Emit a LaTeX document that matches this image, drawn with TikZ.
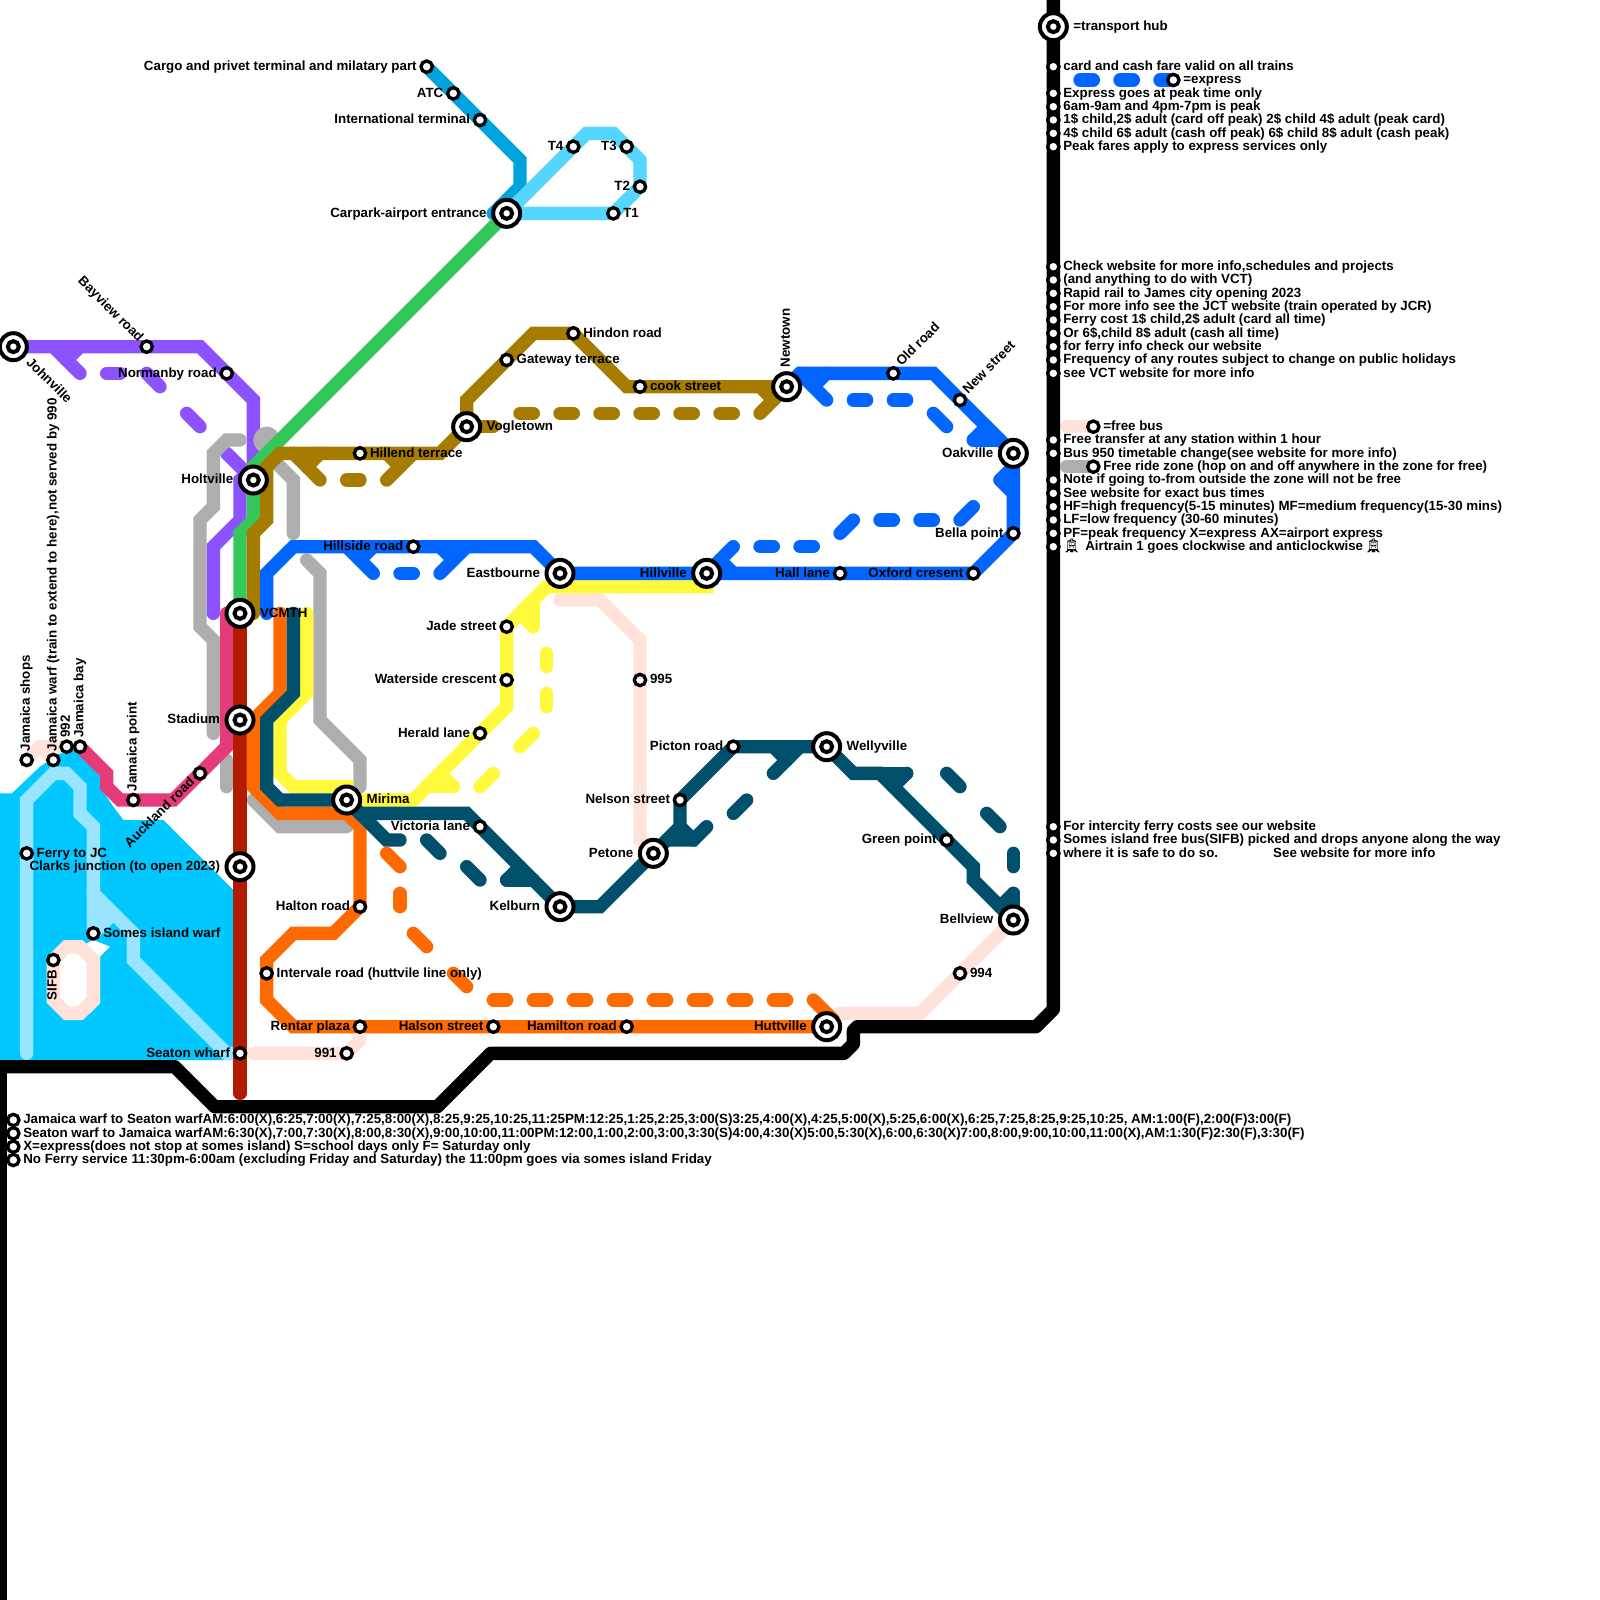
\documentclass[tikz,border=0pt]{standalone}
\usepackage{fontspec}
\setmainfont{Liberation Sans}
\newfontfamily\emo{Noto Emoji}
\definecolor{cwater}{HTML}{00C8FF}
\definecolor{clight}{HTML}{99E5FF}
\definecolor{cpeach}{HTML}{FFE2D9}
\definecolor{cgrey}{HTML}{AEAEAE}
\definecolor{cpink}{HTML}{E63B7A}
\definecolor{cred}{HTML}{B31B00}
\definecolor{cpurple}{HTML}{8C52FF}
\definecolor{cgreen}{HTML}{34C85A}
\definecolor{cbrown}{HTML}{A67C00}
\definecolor{cblue}{HTML}{0066FF}
\definecolor{corange}{HTML}{FF6A00}
\definecolor{cteal}{HTML}{004F6B}
\definecolor{cyellow}{HTML}{FFF83B}
\definecolor{cair}{HTML}{00A3DC}
\definecolor{cskyl}{HTML}{54D6FF}
\tikzset{
 ln/.style={line width=6.667pt,line cap=round,line join=miter,miter limit=4},
 stn/.style={circle,draw=black,fill=white,line width=1.667pt,minimum size=5.67pt,inner sep=0pt,outer sep=0pt},
 hubo/.style={circle,draw=black,fill=white,line width=2pt,minimum size=13.5pt,inner sep=0pt,outer sep=0pt},
 hubi/.style={circle,draw=black,fill=white,line width=2pt,minimum size=5.5pt,inner sep=0pt,outer sep=0pt},
 lbl/.style={inner sep=0pt,outer sep=0pt,font=\fontsize{6.667pt}{8pt}\selectfont\bfseries},
}
\newcommand\stO[1]{\node[stn] (s#1) at (#1) {};}
\newcommand\hb[1]{\node[hubo] (s#1) at (#1) {};\node[hubi] (i#1) at (#1) {};}
\newcommand\stR[2]{\stO{#1}\node[lbl,anchor=base west] (t#1) at ([xshift=5pt,yshift=-1.9pt]#1) {#2};}
\newcommand\stL[2]{\stO{#1}\node[lbl,anchor=base east] (t#1) at ([xshift=-5pt,yshift=-1.9pt]#1) {#2};}
\newcommand\stU[2]{\stO{#1}\node[lbl,rotate=90,anchor=base west] (t#1) at ([xshift=1.65pt,yshift=4.5pt]#1) {#2};}
\newcommand\hbR[2]{\hb{#1}\node[lbl,anchor=base west] (t#1) at ([xshift=10pt,yshift=-1.9pt]#1) {#2};}
\newcommand\hbL[2]{\hb{#1}\node[lbl,anchor=base east] (t#1) at ([xshift=-10pt,yshift=-1.9pt]#1) {#2};}
\begin{document}
\begin{tikzpicture}[x=6.6667pt,y=-6.6667pt]
\useasboundingbox (0,0) rectangle (120,120);
\clip (0,0) rectangle (120,120);
\foreach \n/\a/\b in {John/1/26,Bay/11/26,Norm/17/28,Holt/19/36,VC/18/46,Stad/18/54,Clark/18/65,Seat/18/79,
 JShop/2/57,JWarf/4/57,Nn992/5/56,JBay/6/56,JPt/10/60,Auck/15/58,Ferry/2/64,Somes/7/70,SIFB/4/72,
 Interv/20/73,Rentar/27/77,Nn991/26/79,Halton/27/68,Mir/26/60,Vic/36/62,Herald/36/55,Water/38/51,Jade/38/47,
 East/42/43,Kel/42/68,HillS/31/41,HillE/27/34,Vog/35/32,Gate/38/27,Hind/43/25,Cook/48/29,Newt/59/29,
 Old/67/28,NewS/72/30,Oak/76/34,Bella/76/40,Ox/73/43,Hall/63/43,HillV/53/43,Pict/55/56,Well/62/56,
 Nels/51/60,Pet/49/64,Green/71/63,Bell/76/69,Nn994/72/73,Hutt/62/77,Ham/47/77,Hals/37/77,Nn995/48/51,
 Cargo/32/5,ATC/34/7,Intl/36/9,Car/38/16,Tf/43/11,Tt/47/11,Ts/48/14,To/46/16,
 Lhub/79/2,La/79/5,Lx/88/6,Lb/79/7,Lc/79/8,Ld/79/9,Le/79/10,Lf/79/11,
 Lg/79/20,Lh/79/21,Li/79/22,Lj/79/23,Lk/79/24,Ll/79/25,Lm/79/26,Ln/79/27,Lo/79/28,
 Lfree/82/32,Lp/79/33,Lq/79/34,Lzone/82/35,Lr/79/36,Ls/79/37,Lt/79/38,Lu/79/39,Lv/79/40,Lw/79/41,
 Ly/79/62,Lz/79/63,Lza/79/64,Ba/1/84,Bb/1/85,Bc/1/86,Bd/1/87}
 \coordinate (\n) at (\a,\b);

% water and island
\fill[cwater] (0,59.5)--(0.9,59.5)--(3,57.5)--(4.5,56.5)--(6,56)--(7.5,58.25)--(7.5,59)--(8.5,60.5)--(9.25,61.5)--(12.25,61.5)--(17.5,66.75)--(17.5,79.5)--(0,79.5)--cycle;
\fill[white] (5,71)--(6,71)--(7,70.5)--(8.25,71)--(7.5,71.75)--(7.5,75.25)--(6.75,76)--(5,76)--(4,75)--(4,72)--cycle;
% ferry
\draw[ln,clight] (2,79)--(Ferry)--(2,60)--(4,58)--(5,58)--(6,59)--(6,61)--(7,62)--(Somes);
\draw[ln,clight] (7,67)--(10,70)--(10,72)--(17,79)--(Seat);
\draw[ln,clight] (Somes)--(8.5,68.5);
\fill[clight] (7,67.5)--(8.2,68.2)--(7.5,70)--(7,70)--cycle;
% free bus
\draw[ln,cpeach] (5,71)--(6,71)--(7,72)--(7,75)--(6,76)--(5,76)--(4,75)--(SIFB)--cycle;
\draw[ln,cpeach] (JShop)--(3,56)--(Nn992);
\draw[ln,cpeach] (3,56)--(JWarf);
\draw[ln,cpeach] (19,79)--(Nn991)--(27,78);
\draw[ln,cpeach] (42,45)--(45,45)--(48,48)--(Nn995)--(48,63)--(Pet);
\draw[ln,cpeach] (Bell)--(69,76)--(63,76)--(Hutt);
\draw[ln,cpeach] (80,32)--(Lfree);
% black line
\draw[line width=6.667pt,line join=round,black] (79,-1)--(79,75.7)--(77.7,77)--(64.3,77)--(64,77.3)--(64,78.3)--(63.3,79)--(36.8,79)--(32.8,83)--(16.1,83)--(13.1,80)--(-1,80);
\draw[line width=6.667pt,black] (0,80)--(0,121);
% purple
\draw[ln,cpurple] (John)--(Bay)--(15,26)--(Norm)--(19,30)--(19,35)--(18,36)--(18,39)--(16,41)--(16,46);
\draw[ln,cpurple] (4,26)--(6,28);
\draw[ln,cpurple] (6,26)--(5,27);
\draw[ln,cpurple] (8,28)--(9,28);
\draw[ln,cpurple] (11,28)--(12,29);
\draw[ln,cpurple] (14,31)--(15,32);
\draw[ln,cpurple] (17,34)--(Holt);
% free zone
\draw[ln,cgrey] (18,33)--(17,33)--(16,34)--(16,38)--(15,39)--(15,47)--(16,48)--(16,55);
\draw[ln,cgrey] (17,57)--(17,59);
\draw[ln,cgrey] (19,60)--(21,62)--(26,62);
\fill[cgrey] (20,33) circle (6.667pt);
\draw[ln,cgrey] (20,34)--(22,36)--(22,40);
\draw[ln,cgrey] (23,42)--(24,43)--(24,54)--(27,57)--(27,59);
\draw[ln,cgrey] (80,35)--(Lzone);
% pink and red
\draw[ln,cpink] (17,46)--(17,56)--(Auck)--(13,60)--(JPt)--(9,60)--(8,59)--(8,58)--(JBay);
\draw[ln,cred] (VC)--(Stad)--(Clark)--(Seat)--(18,82);
% airport
\draw[ln,cair] (Cargo)--(ATC)--(Intl)--(39,12)--(39,14)--(37,16);
\draw[ln,cair] (37,16)--(Car);
\draw[ln,cskyl] (Car)--(Tf)--(44,10)--(46,10)--(Tt)--(48,12)--(Ts)--(To)--cycle;
% green
\draw[ln,cgreen] (Car)--(19,35)--(Holt)--(19,39)--(18,40)--(VC);
% yellow
\draw[ln,cyellow] (23,46)--(23,52)--(21,54)--(21,58)--(22,59)--(26,59)--(Mir)--(31,60)--(Herald)--(38,53)--(Water)--(Jade)--(41,44)--(53,44)--(HillV);
\draw[ln,cyellow] (40,45)--(40,47);
\draw[ln,cyellow] (39,46)--(40,47);
\draw[ln,cyellow] (41,49)--(41,50);
\draw[ln,cyellow] (41,52)--(41,53);
\draw[ln,cyellow] (40,55)--(39,56);
\draw[ln,cyellow] (37,58)--(36,59);
\draw[ln,cyellow] (32,59)--(34,59);
\draw[ln,cyellow] (33,58)--(34,59);
% orange
\draw[ln,corange] (21,46)--(21,52)--(19,54)--(19,59)--(21,61)--(26,61)--(27,62)--(Halton)--(25,70)--(22,70)--(20,72)--(Interv)--(20,75)--(22,77)--(Rentar)--(Hals)--(Ham)--(Hutt);
\draw[ln,corange] (29,64)--(30,65);
\draw[ln,corange] (30,67)--(30,68);
\draw[ln,corange] (31,70)--(32,71);
\draw[ln,corange] (34,73)--(35,74);
\foreach \a in {37,40,43,46,49,52,55,58} \draw[ln,corange] (\a,75)--++(1,0);
\draw[ln,corange] (61,75)--(62.5,76.5);
% teal
\draw[ln,cteal] (22,46)--(22,52)--(20,54)--(20,59)--(21,60)--(Mir)--(27,61)--(35,61)--(Vic)--(Kel)--(45,68)--(Pet)--(51,62)--(Nels)--(Pict)--(Well)--(64,58)--(66,58)--(Green)--(73,65)--(73,66)--(Bell);
\draw[ln,cteal] (Mir)--(29,63)--(30,63);
\draw[ln,cteal] (32,63)--(33,64);
\draw[ln,cteal] (35,65)--(36,66);
\draw[ln,cteal] (38,66)--(40,66);
\draw[ln,cteal] (38,66)--(39,65);
\draw[ln,cteal] (50,63)--(52,63)--(53,62);
\draw[ln,cteal] (51,62)--(52,63);
\draw[ln,cteal] (55,61)--(56,60);
\draw[ln,cteal] (58,58)--(60,56);
\draw[ln,cteal] (58,56)--(59,57);
\draw[ln,cteal] (66,58)--(68,58);
\draw[ln,cteal] (68,58)--(67,59);
\draw[ln,cteal] (71,58)--(72,59);
\draw[ln,cteal] (74,61)--(75,62);
\draw[ln,cteal] (76,64)--(76,65);
\draw[ln,cteal] (76,67)--(Bell);
\draw[ln,cteal] (76,67)--(75,68);
% brown
\draw[ln,cbrown] (19,46)--(19,40)--(20,39)--(20,35)--(21,34)--(HillE)--(33,34)--(Vog)--(35,30)--(Gate)--(40,25)--(Hind)--(47,29)--(Cook)--(Newt);
\draw[ln,cbrown] (22,34)--(24,36);
\draw[ln,cbrown] (24,34)--(23,35);
\draw[ln,cbrown] (26,36)--(27,36);
\draw[ln,cbrown] (31,34)--(29,36);
\draw[ln,cbrown] (29,34)--(30,35);
\draw[ln,cbrown] (Vog)--(37,32);
\foreach \a in {39,42,45,48,51,54} \draw[ln,cbrown] (\a,31)--++(1,0);
\draw[ln,cbrown] (57,31)--(Newt);
\draw[ln,cbrown] (57,29)--(58,30);
% blue
\draw[ln,cblue] (20,46)--(20,43)--(22,41)--(HillS)--(40,41)--(East)--(HillV)--(Hall)--(Ox)--(Bella)--(Oak)--(NewS)--(70,28)--(Old)--(60,28)--(Newt);
\draw[ln,cblue] (26,41)--(28,43);
\draw[ln,cblue] (28,41)--(27,42);
\draw[ln,cblue] (30,43)--(31,43);
\draw[ln,cblue] (35,41)--(33,43);
\draw[ln,cblue] (33,41)--(34,42);
\draw[ln,cblue] (60,28)--(62,30);
\draw[ln,cblue] (62,28)--(61,29);
\draw[ln,cblue] (64,30)--(65,30);
\draw[ln,cblue] (67,30)--(68,30);
\draw[ln,cblue] (70,31)--(71,32);
\draw[ln,cblue] (74,32)--(73,33);
\draw[ln,cblue] (73,33)--(75,33);
\draw[ln,cblue] (76,35)--(75,36);
\draw[ln,cblue] (75,36)--(76,37);
\draw[ln,cblue] (73,38)--(72,39);
\draw[ln,cblue] (69,39)--(70,39);
\draw[ln,cblue] (66,39)--(67,39);
\draw[ln,cblue] (64,39)--(63,40);
\draw[ln,cblue] (60,41)--(61,41);
\draw[ln,cblue] (57,41)--(58,41);
\draw[ln,cblue] (55,41)--(HillV);
\draw[ln,cblue] (55,43)--(54,42);
\draw[ln,cblue] (81,6)--(82,6);
\draw[ln,cblue] (84,6)--(85,6);
\draw[ln,cblue] (87,6)--(Lx);

% stations and labels
\hb{John}\node[lbl,rotate=-45,anchor=base west] (tJohn) at ([xshift=6.2pt,yshift=-8.25pt]John) {Johnville};
\stO{Bay}\node[lbl,rotate=-45,anchor=base east] (tBay) at ([xshift=-4.2pt,yshift=2pt]Bay) {Bayview road};
\stL{Norm}{Normanby road}
\hbL{Holt}{Holtville}
\hbR{VC}{VCMTH}
\hbL{Stad}{Stadium}
\hbL{Clark}{Clarks junction (to open 2023)}
\stL{Seat}{Seaton wharf}
\stU{JShop}{Jamaica shops}
\stU{JWarf}{Jamaica warf (train to extend to here),not served by 990}
\stU{Nn992}{992}
\stU{JBay}{Jamaica bay}
\stU{JPt}{Jamaica point}
\stO{Auck}\node[lbl,rotate=45,anchor=base east] (tAuck) at ([xshift=-2.35pt,yshift=-4.7pt]Auck) {Auckland road};
\stR{Ferry}{Ferry to JC}
\stR{Somes}{Somes island warf}
\stO{SIFB}\node[lbl,rotate=90,anchor=base east] (tSIFB) at ([xshift=1.65pt,yshift=-5pt]SIFB) {SIFB};
\stR{Interv}{Intervale road (huttvile line only)}
\stL{Rentar}{Rentar plaza}
\stL{Nn991}{991}
\stL{Halton}{Halton road}
\hbR{Mir}{Mirima}
\stL{Vic}{Victoria lane}
\stL{Herald}{Herald lane}
\stL{Water}{Waterside crescent}
\stL{Jade}{Jade street}
\hbL{East}{Eastbourne}
\hbL{Kel}{Kelburn}
\stL{HillS}{Hillside road}
\stR{HillE}{Hillend terrace}
\hbR{Vog}{Vogletown}
\stR{Gate}{Gateway terrace}
\stR{Hind}{Hindon road}
\stR{Cook}{cook street}
\hb{Newt}\node[lbl,rotate=90,anchor=base west] (tNewt) at ([xshift=1.65pt,yshift=9.8pt]Newt) {Newtown};
\stO{Old}\node[lbl,rotate=45,anchor=base west] (tOld) at ([xshift=4.1pt,yshift=3.2pt]Old) {Old road};
\stO{NewS}\node[lbl,rotate=45,anchor=base west] (tNewS) at ([xshift=4.1pt,yshift=2.9pt]NewS) {New street};
\hbL{Oak}{Oakville}
\stL{Bella}{Bella point}
\stL{Ox}{Oxford cresent}
\stL{Hall}{Hall lane}
\hbL{HillV}{Hillville}
\stL{Pict}{Picton road}
\hbR{Well}{Wellyville}
\stL{Nels}{Nelson street}
\hbL{Pet}{Petone}
\stL{Green}{Green point}
\hbL{Bell}{Bellview}
\stR{Nn994}{994}
\hbL{Hutt}{Huttville}
\stL{Ham}{Hamilton road}
\stL{Hals}{Halson street}
\stR{Nn995}{995}
\stL{Cargo}{Cargo and privet terminal and milatary part}
\stL{ATC}{ATC}
\stL{Intl}{International terminal}
\hbL{Car}{Carpark-airport entrance}
\stL{Tf}{T4}
\stL{Tt}{T3}
\stL{Ts}{T2}
\stR{To}{T1}
% legend
\hbR{Lhub}{=transport hub}
\stR{La}{card and cash fare valid on all trains}
\stR{Lx}{=express}
\stR{Lb}{Express goes at peak time only}
\stR{Lc}{6am-9am and 4pm-7pm is peak}
\stR{Ld}{1\$ child,2\$ adult (card off peak) 2\$ child 4\$ adult (peak card)}
\stR{Le}{4\$ child 6\$ adult (cash off peak) 6\$ child 8\$ adult (cash peak)}
\stR{Lf}{Peak fares apply to express services only}
\stR{Lg}{Check website for more info,schedules and projects}
\stR{Lh}{(and anything to do with VCT)}
\stR{Li}{Rapid rail to James city opening 2023}
\stR{Lj}{For more info see the JCT website (train operated by JCR)}
\stR{Lk}{Ferry cost 1\$ child,2\$ adult (card all time)}
\stR{Ll}{Or 6\$,child 8\$ adult (cash all time)}
\stR{Lm}{for ferry info check our website}
\stR{Ln}{Frequency of any routes subject to change on public holidays}
\stR{Lo}{see VCT website for more info}
\stR{Lfree}{=free bus}
\stR{Lp}{Free transfer at any station within 1 hour}
\stR{Lq}{Bus 950 timetable change(see website for more info)}
\stR{Lzone}{Free ride zone (hop on and off anywhere in the zone for free)}
\stR{Lr}{Note if going to-from outside the zone will not be free}
\stR{Ls}{See website for exact bus times}
\stR{Lt}{HF=high frequency(5-15 minutes) MF=medium frequency(15-30 mins)}
\stR{Lu}{LF=low frequency (30-60 minutes)}
\stR{Lv}{PF=peak frequency X=express AX=airport express}
\stR{Lw}{{\emo 🚊}\hspace*{2.5pt}Airtrain 1 goes clockwise and anticlockwise\hspace*{1pt}{\emo 🚊}}
\stR{Ly}{For intercity ferry costs see our website}
\stR{Lz}{Somes island free bus(SIFB) picked and drops anyone along the way}
\stR{Lza}{where it is safe to do so.\hspace*{27.5pt}See website for more info}
\stR{Ba}{Jamaica warf to Seaton warfAM:6:00(X),6:25,7:00(X),7:25,8:00(X),8:25,9:25,10:25,11:25PM:12:25,1:25,2:25,3:00(S)3:25,4:00(X),4:25,5:00(X),5:25,6:00(X),6:25,7:25,8:25,9:25,10:25, AM:1:00(F),2:00(F)3:00(F)}
\stR{Bb}{Seaton warf to Jamaica warfAM:6:30(X),7:00,7:30(X),8:00,8:30(X),9:00,10:00,11:00PM:12:00,1:00,2:00,3:00,3:30(S)4:00,4:30(X)5:00,5:30(X),6:00,6:30(X)7:00,8:00,9:00,10:00,11:00(X),AM:1:30(F)2:30(F),3:30(F)}
\stR{Bc}{X=express(does not stop at somes island) S=school days only F= Saturday only}
\stR{Bd}{No Ferry service 11:30pm-6:00am (excluding Friday and Saturday) the 11:00pm goes via somes island Friday}
\end{tikzpicture}
\end{document}
